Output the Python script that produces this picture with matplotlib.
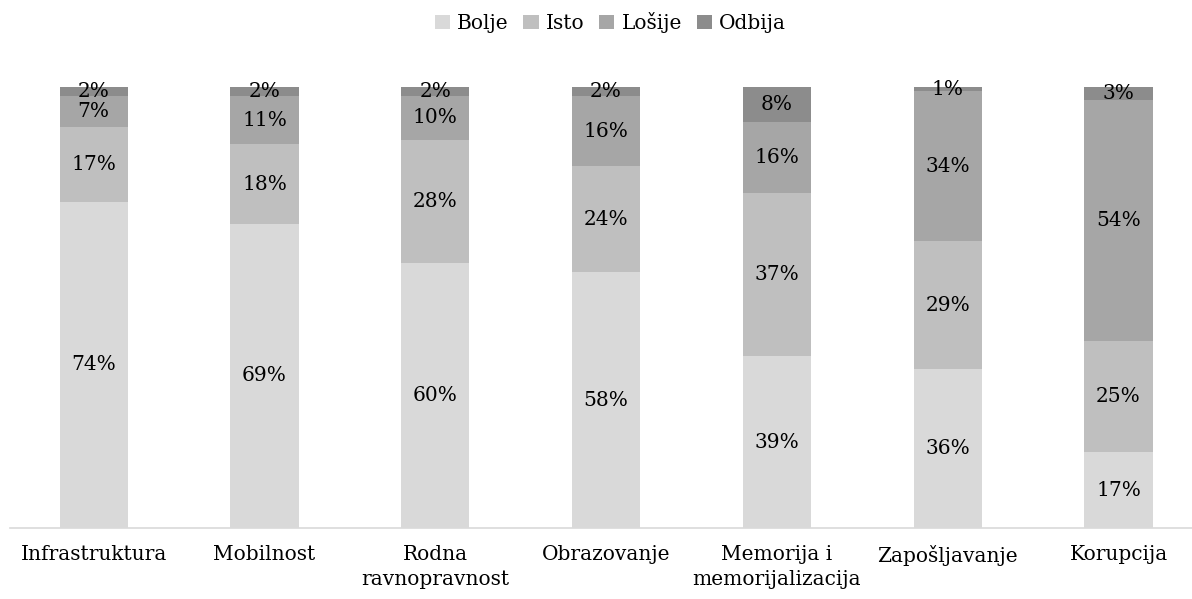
import numpy as np
import matplotlib.pyplot as plt

categories = ["Infrastruktura", "Mobilnost", "Rodna\nravnopravnost", "Obrazovanje",
              "Memorija i\nmemorijalizacija", "Zapošljavanje", "Korupcija"]
series_names = ["Bolje", "Isto", "Lošije", "Odbija"]
bolje = [74, 69, 60, 58, 39, 36, 17]
isto = [17, 18, 28, 24, 37, 29, 25]
losije = [7, 11, 10, 16, 16, 34, 54]
odbija = [2, 2, 2, 2, 8, 1, 3]
colors = ["#d9d9d9", "#bfbfbf", "#a6a6a6", "#8c8c8c"]

plt.rcParams["font.family"] = ["DejaVu Serif"]

fig = plt.figure(figsize=(11.92, 5.99), dpi=100)
ax = fig.add_axes([10 / 1192, 1 - 528 / 599, 1 - 10 / 1192, 441 / 599])

data = np.array([bolje, isto, losije, odbija], dtype=float)
totals = data.sum(axis=0)  # 100% stacked
x = np.arange(len(categories))
bottom = np.zeros(len(categories))
for name, vals, col in zip(series_names, data, colors):
    h = vals / totals * 100
    bars = ax.bar(x, h, 0.4, bottom=bottom, color=col, label=name)
    for b, v, hh in zip(bars, vals, h):
        ax.text(b.get_x() + b.get_width() / 2, b.get_y() + hh / 2, f"{v:.0f}%",
                ha="center", va="center", fontsize=14.5, color="black")
    bottom += h

ax.set_xlim(-0.49, 6.43)
ax.set_ylim(0, 100)
ax.set_yticks([])
ax.set_xticks(x)
ax.set_xticklabels(categories, fontsize=14.5, linespacing=1.45)
ax.tick_params(axis="x", length=0, pad=12)
for s in ["top", "right", "left"]:
    ax.spines[s].set_visible(False)
ax.spines["bottom"].set_color("#d9d9d9")
ax.spines["bottom"].set_linewidth(1.2)

fig.legend(loc="upper center", bbox_to_anchor=(0.512, 1.01), ncol=4, frameon=False,
           fontsize=14.5, handlelength=0.75, handleheight=0.75, handletextpad=0.35,
           columnspacing=0.75)

fig.savefig("out.png", dpi=100)
